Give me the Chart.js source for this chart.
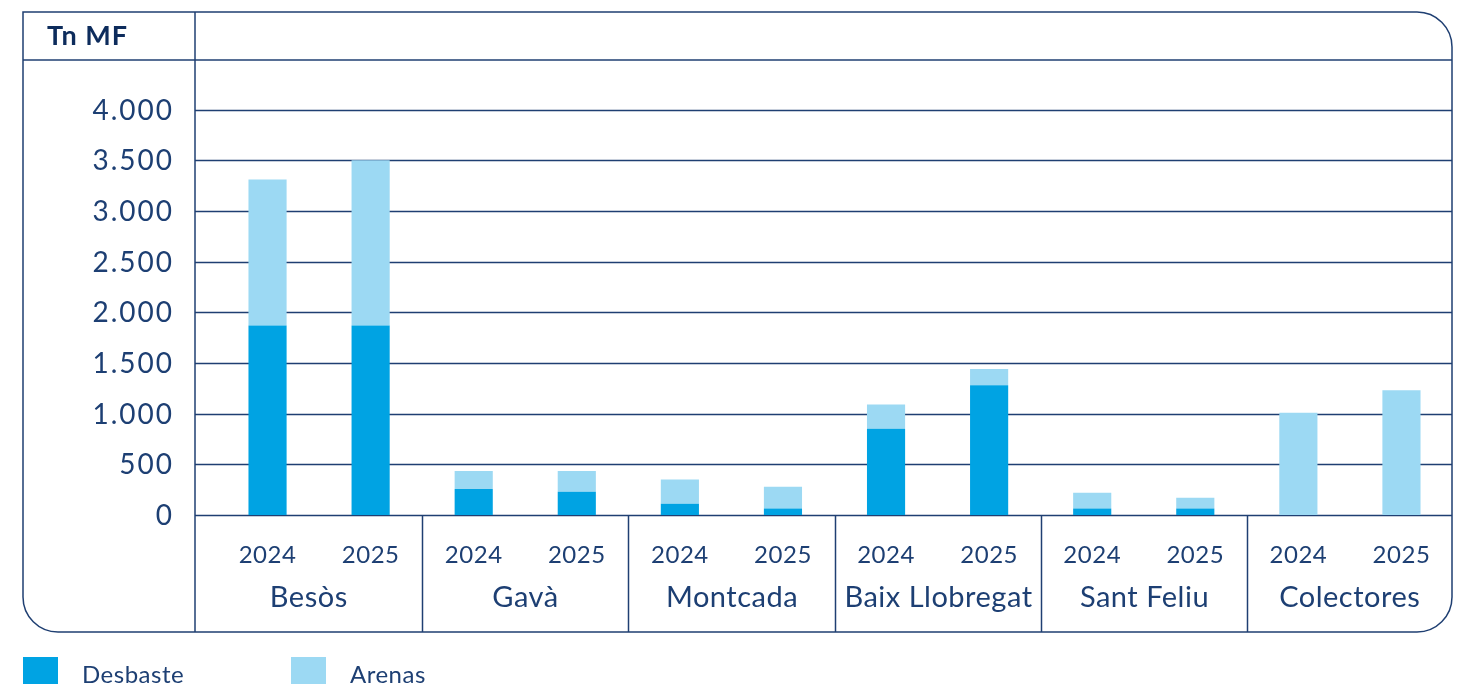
<!DOCTYPE html>
<html>
<head>
<meta charset="utf-8">
<script src="https://cdn.jsdelivr.net/npm/chart.js@4"></script>
<style>
html,body{margin:0;padding:0;background:#fff;}
canvas{display:block;}
</style>
</head>
<body>
<canvas id="c" width="1459" height="684"></canvas>
<script>
// ---- data ----
const groups = ['Besòs', 'Gavà', 'Montcada', 'Baix Llobregat', 'Sant Feliu', 'Colectores'];
const years = ['2024', '2025'];
const categories = ['2024','2025','2024','2025','2024','2025','2024','2025','2024','2025','2024','2025'];
const desbaste = [1870, 1870, 257, 230, 110, 65, 850, 1280, 65, 65, 0, 0];
const arenas   = [1440, 1630, 178, 205, 240, 215, 240, 160, 155, 105, 1010, 1230];
const yTicks = [0, 500, 1000, 1500, 2000, 2500, 3000, 3500, 4000];
const unitLabel = 'Tn MF';

const NAVY = '#1d3f73';
const LINE = '#1f3f72';
const C_DES = '#00a3e3';
const C_ARE = '#9cd9f3';
const FONT = 'Lato, "Open Sans", sans-serif';

function fmt(v){ return v.toString().replace(/\B(?=(\d{3})+(?!\d))/g, '.'); }

const frame = {left:23, top:12, right:1452, bottom:632, r:35, header:60, divider:195};

const deco = {
  id: 'deco',
  beforeDatasetsDraw(chart){
    const ctx = chart.ctx, y = chart.scales.y;
    ctx.save();
    ctx.strokeStyle = LINE; ctx.lineWidth = 1.5;
    yTicks.forEach(v => {
      const py = Math.round(y.getPixelForValue(v)) + 0.5;
      ctx.beginPath(); ctx.moveTo(frame.divider, py); ctx.lineTo(frame.right, py); ctx.stroke();
    });
    ctx.restore();
  },
  afterDatasetsDraw(chart){
    const ctx = chart.ctx, x = chart.scales.x, y = chart.scales.y;
    const f = frame;
    ctx.save();
    ctx.strokeStyle = LINE; ctx.lineWidth = 1.5;
    // outer frame
    ctx.beginPath();
    ctx.moveTo(f.left, f.top);
    ctx.lineTo(f.right - f.r, f.top);
    ctx.arcTo(f.right, f.top, f.right, f.top + f.r, f.r);
    ctx.lineTo(f.right, f.bottom - f.r);
    ctx.arcTo(f.right, f.bottom, f.right - f.r, f.bottom, f.r);
    ctx.lineTo(f.left + f.r, f.bottom);
    ctx.arcTo(f.left, f.bottom, f.left, f.bottom - f.r, f.r);
    ctx.closePath();
    ctx.stroke();
    // header line and divider
    ctx.beginPath(); ctx.moveTo(f.left, f.header); ctx.lineTo(f.right, f.header); ctx.stroke();
    ctx.beginPath(); ctx.moveTo(f.divider, f.top); ctx.lineTo(f.divider, f.bottom); ctx.stroke();
    // group separators
    const zero = y.getPixelForValue(0);
    const bounds = [f.divider];
    for (let g = 1; g < groups.length; g++) {
      const sx = Math.round((x.getPixelForValue(2*g-1) + x.getPixelForValue(2*g)) / 2) + 0.5;
      bounds.push(sx);
      ctx.beginPath(); ctx.moveTo(sx, zero); ctx.lineTo(sx, f.bottom); ctx.stroke();
    }
    bounds.push(f.right);
    // header text
    ctx.fillStyle = '#0d2c5c';
    ctx.font = 'bold 27px ' + FONT;
    ctx.textBaseline = 'middle'; ctx.textAlign = 'left';
    ctx.letterSpacing = '1px';
    ctx.fillText(unitLabel, 47, 36);
    // y tick labels
    ctx.fillStyle = NAVY;
    ctx.font = '28px ' + FONT;
    ctx.letterSpacing = '2px';
    ctx.textAlign = 'right';
    yTicks.forEach(v => ctx.fillText(fmt(v), 174, y.getPixelForValue(v) + 1));
    // year labels
    ctx.textAlign = 'center';
    ctx.font = '24px ' + FONT;
    ctx.letterSpacing = '0.5px';
    categories.forEach((c, i) => ctx.fillText(c, x.getPixelForValue(i), 555));
    // group labels
    ctx.font = '29px ' + FONT;
    ctx.letterSpacing = '0.5px';
    groups.forEach((g, i) => ctx.fillText(g, (bounds[i] + bounds[i+1]) / 2, 598));
    // legend
    ctx.font = '24px ' + FONT;
    ctx.letterSpacing = '0.5px';
    ctx.textAlign = 'left';
    const items = chart.data.datasets;
    const lx = [23, 291];
    items.forEach((ds, i) => {
      ctx.fillStyle = ds.backgroundColor;
      ctx.fillRect(lx[i], 657, 35, 30);
      ctx.fillStyle = NAVY;
      ctx.fillText(ds.label, lx[i] + 59, 675);
    });
    ctx.restore();
  }
};

new Chart(document.getElementById('c'), {
  type: 'bar',
  data: {
    labels: categories,
    datasets: [
      { label: 'Desbaste', data: desbaste, backgroundColor: C_DES, barPercentage: 0.37, categoryPercentage: 1 },
      { label: 'Arenas', data: arenas, backgroundColor: C_ARE, barPercentage: 0.37, categoryPercentage: 1 }
    ]
  },
  options: {
    responsive: false,
    devicePixelRatio: 1,
    animation: false,
    layout: { padding: { left: 216, right: 6, top: 59, bottom: 169 } },
    plugins: { legend: { display: false }, tooltip: { enabled: false } },
    scales: {
      x: { display: false, stacked: true },
      y: { display: false, stacked: true, min: 0, max: 4500 }
    }
  },
  plugins: [deco]
});
</script>
</body>
</html>
